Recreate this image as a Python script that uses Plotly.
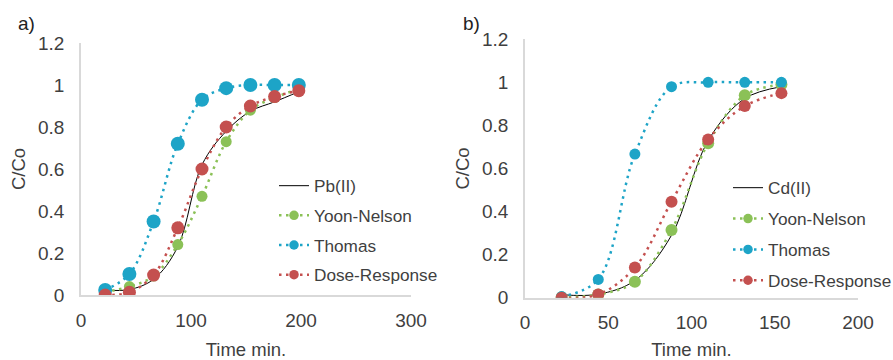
import plotly.graph_objects as go

# ---- data (a) Pb(II) ----
time_a = [22, 44, 66, 88, 110, 132, 154, 176, 198]
pb_exp = [0.024, 0.026, 0.075, 0.23, 0.62, 0.78, 0.875, 0.92, 0.968]
pb_yoon = [0.015, 0.04, 0.09, 0.24, 0.47, 0.73, 0.88, 0.94, 0.98]
pb_thomas = [0.024, 0.10, 0.35, 0.72, 0.93, 0.985, 1.0, 1.0, 1.0]
pb_dose = [0.0, 0.013, 0.095, 0.32, 0.60, 0.80, 0.90, 0.945, 0.973]

# ---- data (b) Cd(II) ----
time_b = [22, 44, 66, 88, 110, 132, 154]
cd_exp = [0.014, 0.016, 0.08, 0.29, 0.73, 0.925, 0.98]
cd_yoon = [0.002, 0.015, 0.074, 0.314, 0.717, 0.94, 0.99]
cd_thomas = [0.005, 0.085, 0.667, 0.98, 1.0, 1.0, 1.0]
cd_dose = [0.0, 0.015, 0.14, 0.446, 0.735, 0.89, 0.95]

series_names = ["Yoon-Nelson", "Thomas", "Dose-Response"]
xticks_a = [0, 100, 200, 300]
xticks_b = [0, 50, 100, 150, 200]
yticks = [0, 0.2, 0.4, 0.6, 0.8, 1, 1.2]

GREEN = "#8BC157"
BLUE = "#1DA4C7"
RED = "#C4504F"
TXT = "#3F3F3F"
FONT = "Liberation Sans"
DOT = "2.5px,4.5px"
COLORS = [GREEN, BLUE, RED]

fig = go.Figure()

def add_set(t, exp, model_vals, name, xa, ya, leg, sizes):
    # experimental curve
    fig.add_trace(go.Scatter(x=t, y=exp, mode="lines", name=name,
                             line=dict(color="black", width=1, shape="spline", smoothing=1.0),
                             xaxis=xa, yaxis=ya, legend=leg, legendgroup=leg + "0"))
    for i, (vals, nm, col, sz) in enumerate(zip(model_vals, series_names, COLORS, sizes)):
        fig.add_trace(go.Scatter(x=t, y=vals, mode="lines+markers", name=nm, showlegend=False,
                                 line=dict(color=col, width=2.5, dash=DOT, shape="spline", smoothing=1.0),
                                 marker=dict(color=col, size=sz),
                                 xaxis=xa, yaxis=ya, legendgroup=leg + str(i + 1)))
        # legend entry with smaller symbol (no data)
        fig.add_trace(go.Scatter(x=[None], y=[None], mode="lines+markers", name=nm,
                                 line=dict(color=col, width=2.5, dash=DOT),
                                 marker=dict(color=col, size=9.5),
                                 xaxis=xa, yaxis=ya, legend=leg, legendgroup=leg + str(i + 1)))

add_set(time_a, pb_exp, [pb_yoon, pb_thomas, pb_dose], "Pb(II)", "x", "y", "legend", (11, 14, 13))
add_set(time_b, cd_exp, [cd_yoon, cd_thomas, cd_dose], "Cd(II)", "x2", "y2", "legend2", (12, 11, 12))

tickfont = dict(family=FONT, size=19, color=TXT)
titlefont = dict(family=FONT, size=18.5, color=TXT)
common_x = dict(showgrid=False, zeroline=False, showline=True, linecolor="#D9D9D9", linewidth=1.5,
                ticks="", tickfont=tickfont, ticklabelstandoff=7, automargin=False,
                title=dict(text="Time min.", font=titlefont, standoff=14))
common_y = dict(showgrid=False, zeroline=False, showline=True, linecolor="#D9D9D9", linewidth=1.5,
                ticks="", tickfont=tickfont, ticklabelstandoff=11, range=[0, 1.2], automargin=False,
                tickvals=yticks, ticktext=[str(v) for v in yticks],
                title=dict(text="C/Co", font=titlefont, standoff=8))

legfont = dict(family=FONT, size=17.2, color=TXT)

fig.update_layout(
    width=893, height=360,
    margin=dict(l=0, r=0, t=0, b=0, autoexpand=False),
    paper_bgcolor="white", plot_bgcolor="white",
    font=dict(family=FONT, color=TXT),
    xaxis=dict(common_x, domain=[81/893, 411/893], range=[0, 300], tickvals=xticks_a, anchor="y"),
    yaxis=dict(common_y, domain=[65/360, 317/360], anchor="x"),
    xaxis2=dict(common_x, domain=[525/893, 858/893], range=[0, 200], tickvals=xticks_b, anchor="y2"),
    yaxis2=dict(common_y, domain=[62.3/360, 320.7/360], anchor="x2"),
    legend=dict(x=274/893, y=1 - 168/360, xanchor="left", yanchor="top", font=legfont,
                bgcolor="rgba(0,0,0,0)", tracegroupgap=4.3, traceorder="grouped"),
    legend2=dict(x=728/893, y=1 - 170/360, xanchor="left", yanchor="top", font=legfont,
                 bgcolor="rgba(0,0,0,0)", tracegroupgap=5.5, traceorder="grouped"),
    annotations=[
        dict(text="a)", x=16/893, y=1 - 23/360, xref="paper", yref="paper", showarrow=False,
             xanchor="left", yanchor="middle", font=dict(family=FONT, size=19, color="#222")),
        dict(text="b)", x=461/893, y=1 - 23/360, xref="paper", yref="paper", showarrow=False,
             xanchor="left", yanchor="middle", font=dict(family=FONT, size=19, color="#222")),
    ],
)

fig.write_html("out.html", config={"displayModeBar": False},
               post_script="document.body.style.margin='0';document.body.style.overflow='hidden';")
